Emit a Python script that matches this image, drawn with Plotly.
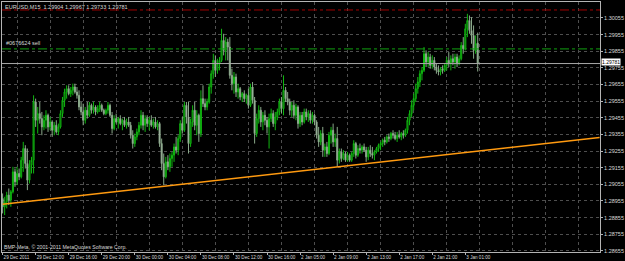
import plotly.graph_objects as go

header_text = "EURUSD,M15  1.29904 1.29967 1.29733 1.29781"
copyright_text = "BMP-Meta, \u00a9 2001-2011 MetaQuotes Software Corp."
order_label = "#0676624 sell"

bar_open = [
    1.2897, 1.2892, 1.2895, 1.2899, 1.2896, 1.2901, 1.2913, 1.2907, 1.2912, 1.2910,
    1.2920, 1.2927, 1.2918, 1.2908, 1.2917, 1.2920, 1.2955, 1.2944, 1.2948, 1.2945,
    1.2940, 1.2944, 1.2947, 1.2940, 1.2943, 1.2938, 1.2941, 1.2937, 1.2940, 1.2948,
    1.2956, 1.2961, 1.2963, 1.2960, 1.2962, 1.2964, 1.2961, 1.2959, 1.2952, 1.2949,
    1.2944, 1.2950, 1.2947, 1.2953, 1.2950, 1.2952, 1.2949, 1.2951, 1.2953, 1.2950,
    1.2948, 1.2950, 1.2953, 1.2947, 1.2939, 1.2945, 1.2943, 1.2945, 1.2942, 1.2944,
    1.2941, 1.2943, 1.2941, 1.2935, 1.2930, 1.2934, 1.2937, 1.2941, 1.2947, 1.2941,
    1.2945, 1.2942, 1.2944, 1.2941, 1.2943, 1.2940, 1.2942, 1.2930, 1.2918, 1.2910,
    1.2919, 1.2916, 1.2921, 1.2923, 1.2928, 1.2926, 1.2933, 1.2942, 1.2938, 1.2953,
    1.2946, 1.2930, 1.2943, 1.2950, 1.2941, 1.2947, 1.2936, 1.2957, 1.2954, 1.2952,
    1.2955, 1.2964, 1.2972, 1.2980, 1.2974, 1.2978, 1.2980, 1.2992, 1.2986, 1.2991,
    1.2988, 1.2971, 1.2966, 1.2970, 1.2961, 1.2963, 1.2958, 1.2960, 1.2957, 1.2959,
    1.2953, 1.2964, 1.2956, 1.2936, 1.2945, 1.2950, 1.2943, 1.2947, 1.2944, 1.2940,
    1.2945, 1.2948, 1.2942, 1.2946, 1.2949, 1.2955, 1.2951, 1.2962, 1.2957, 1.2955,
    1.2950, 1.2953, 1.2947, 1.2952, 1.2942, 1.2947, 1.2943, 1.2949, 1.2946, 1.2948,
    1.2944, 1.2947, 1.2943, 1.2935, 1.2931, 1.2936, 1.2926, 1.2928, 1.2924, 1.2935,
    1.2938, 1.2931, 1.2933, 1.2920, 1.2925, 1.2921, 1.2924, 1.2920, 1.2923, 1.2920,
    1.2924, 1.2930, 1.2923, 1.2927, 1.2926, 1.2928, 1.2926, 1.2922, 1.2926, 1.2924,
    1.2923, 1.2925, 1.2927, 1.2929, 1.2930, 1.2932, 1.2931, 1.2934, 1.2933, 1.2936,
    1.2935, 1.2933, 1.2935, 1.2934, 1.2936, 1.2935, 1.2938, 1.2944, 1.2948, 1.2953,
    1.2957, 1.2963, 1.2967, 1.2972, 1.2974, 1.2984, 1.2979, 1.2982, 1.2977, 1.2980,
    1.2976, 1.2974, 1.2973, 1.2975, 1.2974, 1.2977, 1.2980, 1.2978, 1.2981, 1.2979,
    1.2982, 1.2978, 1.2981, 1.2989, 1.2987, 1.2999, 1.3004, 1.2998, 1.2995, 1.2986,
    1.29904,
]
bar_high = [
    1.2900, 1.2898, 1.2901, 1.2903, 1.2902, 1.2916, 1.2915, 1.2916, 1.2915, 1.2922,
    1.2931, 1.2929, 1.2927, 1.2920, 1.2922, 1.2959, 1.2957, 1.2952, 1.2955, 1.2949,
    1.2947, 1.2950, 1.2948, 1.2946, 1.2944, 1.2943, 1.2944, 1.2942, 1.2950, 1.2958,
    1.2963, 1.2965, 1.2965, 1.2964, 1.2966, 1.2966, 1.2964, 1.2962, 1.2955, 1.2954,
    1.2952, 1.2955, 1.2955, 1.2954, 1.2955, 1.2953, 1.2953, 1.2955, 1.2954, 1.2951,
    1.2951, 1.2955, 1.2954, 1.2949, 1.2947, 1.2948, 1.2946, 1.2947, 1.2945, 1.2946,
    1.2945, 1.2946, 1.2943, 1.2938, 1.2936, 1.2939, 1.2943, 1.2950, 1.2949, 1.2947,
    1.2947, 1.2946, 1.2947, 1.2945, 1.2946, 1.2944, 1.2943, 1.2933, 1.2924, 1.2922,
    1.2923, 1.2924, 1.2925, 1.2930, 1.2934, 1.2935, 1.2944, 1.2946, 1.2955, 1.2955,
    1.2955, 1.2945, 1.2953, 1.2955, 1.2950, 1.2948, 1.2962, 1.2965, 1.2957, 1.2957,
    1.2966, 1.2974, 1.2984, 1.2983, 1.2981, 1.2982, 1.2999, 1.2996, 1.2994, 1.2993,
    1.2994, 1.2975, 1.2973, 1.2972, 1.2966, 1.2964, 1.2961, 1.2962, 1.2960, 1.2963,
    1.2966, 1.2967, 1.2958, 1.2948, 1.2953, 1.2952, 1.2949, 1.2950, 1.2946, 1.2948,
    1.2951, 1.2950, 1.2949, 1.2951, 1.2957, 1.2958, 1.2971, 1.2964, 1.2961, 1.2957,
    1.2955, 1.2956, 1.2954, 1.2953, 1.2949, 1.2949, 1.2951, 1.2951, 1.2950, 1.2950,
    1.2949, 1.2948, 1.2944, 1.2940, 1.2938, 1.2940, 1.2930, 1.2931, 1.2937, 1.2940,
    1.2942, 1.2936, 1.2940, 1.2927, 1.2927, 1.2926, 1.2925, 1.2925, 1.2924, 1.2925,
    1.2932, 1.2931, 1.2929, 1.2930, 1.2929, 1.2930, 1.2928, 1.2928, 1.2929, 1.2928,
    1.2926, 1.2928, 1.2930, 1.2931, 1.2933, 1.2934, 1.2935, 1.2936, 1.2937, 1.2938,
    1.2937, 1.2937, 1.2938, 1.2937, 1.2938, 1.2939, 1.2946, 1.2950, 1.2956, 1.2960,
    1.2966, 1.2970, 1.2974, 1.2976, 1.2988, 1.2986, 1.2985, 1.2984, 1.2983, 1.2982,
    1.2978, 1.2977, 1.2976, 1.2977, 1.2978, 1.2982, 1.2985, 1.2983, 1.2984, 1.2984,
    1.2984, 1.2983, 1.2991, 1.2994, 1.3002, 1.3008, 1.3007, 1.3006, 1.3001, 1.2995,
    1.29967,
]
bar_low = [
    1.2888, 1.2887, 1.2891, 1.2893, 1.2892, 1.2900, 1.2904, 1.2905, 1.2908, 1.2909,
    1.2913, 1.2915, 1.2902, 1.2906, 1.2912, 1.2912, 1.2940, 1.2936, 1.2942, 1.2935,
    1.2938, 1.2939, 1.2937, 1.2938, 1.2934, 1.2935, 1.2936, 1.2935, 1.2939, 1.2946,
    1.2952, 1.2957, 1.2959, 1.2958, 1.2959, 1.2960, 1.2957, 1.2950, 1.2947, 1.2941,
    1.2942, 1.2945, 1.2946, 1.2948, 1.2948, 1.2947, 1.2948, 1.2949, 1.2949, 1.2947,
    1.2947, 1.2948, 1.2946, 1.2936, 1.2938, 1.2942, 1.2939, 1.2941, 1.2938, 1.2940,
    1.2939, 1.2940, 1.2933, 1.2927, 1.2928, 1.2932, 1.2935, 1.2939, 1.2938, 1.2937,
    1.2940, 1.2938, 1.2940, 1.2939, 1.2939, 1.2938, 1.2928, 1.2914, 1.2905, 1.2909,
    1.2914, 1.2913, 1.2916, 1.2919, 1.2924, 1.2923, 1.2931, 1.2936, 1.2937, 1.2942,
    1.2924, 1.2928, 1.2940, 1.2938, 1.2935, 1.2931, 1.2934, 1.2952, 1.2950, 1.2950,
    1.2954, 1.2960, 1.2969, 1.2970, 1.2972, 1.2974, 1.2979, 1.2983, 1.2980, 1.2980,
    1.2969, 1.2962, 1.2960, 1.2958, 1.2957, 1.2956, 1.2955, 1.2955, 1.2954, 1.2951,
    1.2952, 1.2954, 1.2930, 1.2934, 1.2942, 1.2940, 1.2938, 1.2941, 1.2936, 1.2927,
    1.2943, 1.2940, 1.2938, 1.2944, 1.2947, 1.2948, 1.2947, 1.2955, 1.2953, 1.2947,
    1.2946, 1.2945, 1.2944, 1.2939, 1.2940, 1.2941, 1.2942, 1.2944, 1.2943, 1.2942,
    1.2942, 1.2941, 1.2933, 1.2928, 1.2929, 1.2922, 1.2922, 1.2922, 1.2923, 1.2930,
    1.2928, 1.2928, 1.2916, 1.2918, 1.2919, 1.2920, 1.2919, 1.2919, 1.2919, 1.2919,
    1.2922, 1.2921, 1.2922, 1.2924, 1.2924, 1.2925, 1.2919, 1.2920, 1.2922, 1.2921,
    1.2920, 1.2924, 1.2925, 1.2926, 1.2928, 1.2929, 1.2930, 1.2931, 1.2932, 1.2933,
    1.2932, 1.2931, 1.2933, 1.2932, 1.2933, 1.2934, 1.2936, 1.2941, 1.2946, 1.2950,
    1.2955, 1.2960, 1.2964, 1.2968, 1.2973, 1.2976, 1.2976, 1.2975, 1.2975, 1.2974,
    1.2972, 1.2971, 1.2971, 1.2972, 1.2973, 1.2974, 1.2976, 1.2974, 1.2977, 1.2975,
    1.2976, 1.2977, 1.2980, 1.2984, 1.2986, 1.2994, 1.2996, 1.2990, 1.2981, 1.2984,
    1.29733,
]
bar_close = [
    1.2892, 1.2895, 1.2899, 1.2896, 1.2901, 1.2913, 1.2907, 1.2912, 1.2910, 1.2920,
    1.2927, 1.2918, 1.2908, 1.2917, 1.2920, 1.2955, 1.2944, 1.2948, 1.2945, 1.2940,
    1.2944, 1.2947, 1.2940, 1.2943, 1.2938, 1.2941, 1.2937, 1.2940, 1.2948, 1.2956,
    1.2961, 1.2963, 1.2960, 1.2962, 1.2964, 1.2961, 1.2959, 1.2952, 1.2949, 1.2944,
    1.2950, 1.2947, 1.2953, 1.2950, 1.2952, 1.2949, 1.2951, 1.2953, 1.2950, 1.2948,
    1.2950, 1.2953, 1.2947, 1.2939, 1.2945, 1.2943, 1.2945, 1.2942, 1.2944, 1.2941,
    1.2943, 1.2941, 1.2935, 1.2930, 1.2934, 1.2937, 1.2941, 1.2947, 1.2941, 1.2945,
    1.2942, 1.2944, 1.2941, 1.2943, 1.2940, 1.2942, 1.2930, 1.2918, 1.2910, 1.2919,
    1.2916, 1.2921, 1.2923, 1.2928, 1.2926, 1.2933, 1.2942, 1.2938, 1.2953, 1.2946,
    1.2930, 1.2943, 1.2950, 1.2941, 1.2947, 1.2936, 1.2957, 1.2954, 1.2952, 1.2955,
    1.2964, 1.2972, 1.2980, 1.2974, 1.2978, 1.2980, 1.2992, 1.2986, 1.2991, 1.2988,
    1.2971, 1.2966, 1.2970, 1.2961, 1.2963, 1.2958, 1.2960, 1.2957, 1.2959, 1.2953,
    1.2964, 1.2956, 1.2936, 1.2945, 1.2950, 1.2943, 1.2947, 1.2944, 1.2940, 1.2945,
    1.2948, 1.2942, 1.2946, 1.2949, 1.2955, 1.2951, 1.2962, 1.2957, 1.2955, 1.2950,
    1.2953, 1.2947, 1.2952, 1.2942, 1.2947, 1.2943, 1.2949, 1.2946, 1.2948, 1.2944,
    1.2947, 1.2943, 1.2935, 1.2931, 1.2936, 1.2926, 1.2928, 1.2924, 1.2935, 1.2938,
    1.2931, 1.2933, 1.2920, 1.2925, 1.2921, 1.2924, 1.2920, 1.2923, 1.2920, 1.2924,
    1.2930, 1.2923, 1.2927, 1.2926, 1.2928, 1.2926, 1.2922, 1.2926, 1.2924, 1.2923,
    1.2925, 1.2927, 1.2929, 1.2930, 1.2932, 1.2931, 1.2934, 1.2933, 1.2936, 1.2935,
    1.2933, 1.2935, 1.2934, 1.2936, 1.2935, 1.2938, 1.2944, 1.2948, 1.2953, 1.2957,
    1.2963, 1.2967, 1.2972, 1.2974, 1.2984, 1.2979, 1.2982, 1.2977, 1.2980, 1.2976,
    1.2974, 1.2973, 1.2975, 1.2974, 1.2977, 1.2980, 1.2978, 1.2981, 1.2979, 1.2982,
    1.2978, 1.2981, 1.2989, 1.2987, 1.2999, 1.3004, 1.2998, 1.2995, 1.2986, 1.2990,
    1.29781,
]

time_labels = ["29 Dec 2011", "29 Dec 12:00", "29 Dec 16:00", "29 Dec 20:00",
               "30 Dec 00:00", "30 Dec 04:00", "30 Dec 08:00", "30 Dec 12:00",
               "30 Dec 16:00", "2 Jan 05:00", "2 Jan 09:00", "2 Jan 13:00",
               "2 Jan 17:00", "2 Jan 21:00", "3 Jan 01:00"]
time_label_bars = [0, 16, 32, 48, 64, 80, 96, 112, 128, 144, 160, 176, 192, 208, 224]
price_ticks = [1.28655, 1.28755, 1.28855, 1.28955, 1.29055, 1.29155, 1.29255, 1.29355,
               1.29455, 1.29555, 1.29655, 1.29755, 1.29855, 1.29955, 1.30055]

trend_bars = [0, 289]
trend_prices = [1.28935, 1.29336]
bid_price = 1.29781
order_price = 1.29869
stop_price = 1.30103

bar_no = list(range(len(bar_close)))

FONT = "Liberation Sans"
TXT = "#d8d8d8"
GRID = "#4e4e4e"
FRAME = "#b4b4b4"

fig = go.Figure()
fig.add_trace(go.Candlestick(
    x=bar_no, open=bar_open, high=bar_high, low=bar_low, close=bar_close,
    increasing=dict(line=dict(color="#10b810", width=1), fillcolor="#053005"),
    decreasing=dict(line=dict(color="#8aa88a", width=1), fillcolor="#d0d0d0"),
    whiskerwidth=0, hoverinfo="skip",
))
fig.add_trace(go.Scatter(
    x=trend_bars, y=trend_prices, mode="lines",
    line=dict(color="#ff9a10", width=1.4), hoverinfo="skip",
))

for price, color, dash in [(stop_price, "#a00000", "dashdot"),
                           (order_price, "#10a010", "dashdot"),
                           (bid_price, "#a8a8a8", "solid")]:
    fig.add_shape(type="line", xref="paper", x0=0, x1=1, yref="y", y0=price, y1=price,
                  line=dict(color=color, width=1, dash=dash), layer="above")

grid_bars = [b + 7 for b in time_label_bars] + [time_label_bars[-1] + 23,
                                                time_label_bars[-1] + 39,
                                                time_label_bars[-1] + 55]

fig.update_layout(
    width=625, height=261,
    margin=dict(l=2, r=20, t=1, b=9),
    paper_bgcolor="#000000", plot_bgcolor="#000000",
    showlegend=False,
    font=dict(family=FONT, size=5.5, color=TXT),
    xaxis=dict(
        range=[-0.29, 289.2], rangeslider=dict(visible=False),
        tickmode="array", tickvals=time_label_bars, ticktext=time_labels,
        tickangle=0,
        ticklabelposition="outside right", ticks="outside", ticklen=2,
        tickcolor=FRAME, tickfont=dict(family=FONT, size=4.6, color=TXT),
        showgrid=False, zeroline=False,
        showline=True, linecolor=FRAME, linewidth=1, mirror=True,
        minor=dict(tickmode="array", tickvals=grid_bars, showgrid=True,
                   gridcolor=GRID, griddash="dot", gridwidth=1, ticks=""),
    ),
    yaxis=dict(
        range=[1.28648, 1.30151], side="right",
        tickmode="array", tickvals=price_ticks,
        ticktext=["%.5f" % p for p in price_ticks],
        ticks="outside", ticklen=2, tickcolor=FRAME,
        tickfont=dict(family=FONT, size=5.5, color=TXT),
        showgrid=True, gridcolor=GRID, griddash="dot", gridwidth=1,
        zeroline=False, showline=True, linecolor=FRAME, linewidth=1, mirror=True,
    ),
)

fig.add_annotation(xref="paper", yref="paper", x=0.002, y=0.98, xanchor="left",
                   yanchor="middle", text=header_text, showarrow=False,
                   font=dict(family=FONT, size=5.5, color=TXT))
fig.add_annotation(xref="paper", yref="paper", x=0.0, y=0.02, xanchor="left",
                   yanchor="middle", text=copyright_text, showarrow=False,
                   font=dict(family=FONT, size=5.2, color=TXT))
fig.add_annotation(xref="paper", yref="y", x=0.004, y=order_price, xanchor="left",
                   yanchor="bottom", yshift=1, text=order_label, showarrow=False,
                   font=dict(family=FONT, size=5.5, color=TXT))
fig.add_annotation(xref="paper", yref="y", x=1.0, y=bid_price, xanchor="left",
                   yanchor="middle", xshift=1, yshift=2, text="1.29781", showarrow=False,
                   bgcolor="#ffffff", borderpad=0,
                   font=dict(family=FONT, size=5, color="#000000"))

fig.write_html("out.html")
